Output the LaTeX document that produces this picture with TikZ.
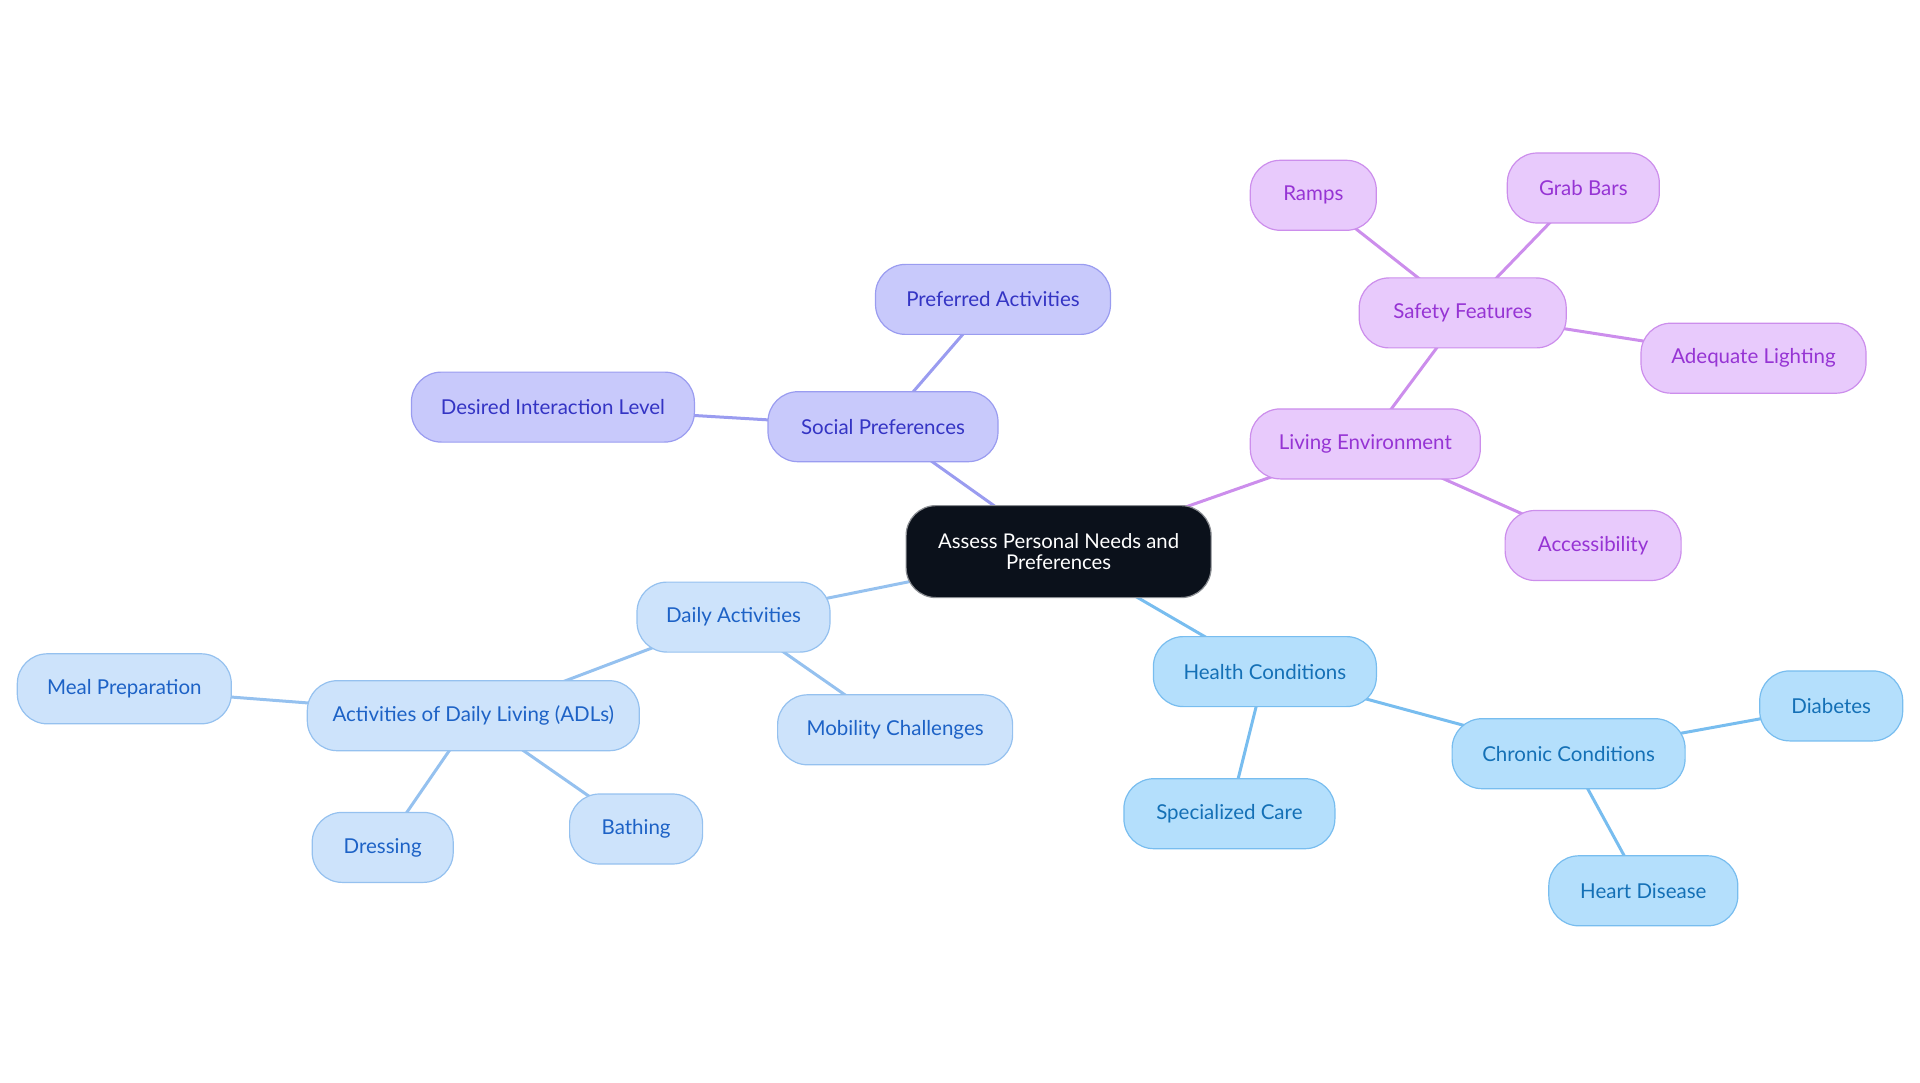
\documentclass[tikz,border=0pt]{standalone}
\usepackage{fontspec}
\setmainfont{Lato}
\usetikzlibrary{backgrounds}
\definecolor{rootfill}{HTML}{0B111B}
\definecolor{rootdraw}{HTML}{8A8D92}
\definecolor{indfill}{HTML}{C8C9FB}
\definecolor{inddraw}{HTML}{9A9CF0}
\definecolor{indtext}{HTML}{3434C4}
\definecolor{purfill}{HTML}{E8CAFC}
\definecolor{purdraw}{HTML}{CC8EEC}
\definecolor{purtext}{HTML}{9634D4}
\definecolor{hlfill}{HTML}{B4DFFC}
\definecolor{hldraw}{HTML}{78BDEF}
\definecolor{hltext}{HTML}{1470B6}
\definecolor{dafill}{HTML}{CDE3FB}
\definecolor{dadraw}{HTML}{95C1EF}
\definecolor{datext}{HTML}{1D62C6}
\tikzset{
  base/.style={rectangle, rounded corners=30pt, minimum height=70pt, line width=1.2pt,
    font=\fontsize{20.5}{23}\selectfont, inner xsep=0pt},
  rootnode/.style={base, fill=rootfill, draw=rootdraw, text=white, align=center,
    font=\fontsize{20.3}{21}\selectfont, minimum height=92pt},
  ind/.style={base, fill=indfill, draw=inddraw, text=indtext},
  pur/.style={base, fill=purfill, draw=purdraw, text=purtext},
  hl/.style={base, fill=hlfill, draw=hldraw, text=hltext},
  da/.style={base, fill=dafill, draw=dadraw, text=datext},
  indedge/.style={draw=inddraw, line width=3pt},
  puredge/.style={draw=purdraw, line width=3pt},
  hledge/.style={draw=hldraw, line width=3pt},
  daedge/.style={draw=dadraw, line width=3pt},
}
\begin{document}
\begin{tikzpicture}[x=1pt,y=-1pt]
\useasboundingbox (0,0) rectangle (1920,1083);
\node[rootnode, minimum width=305pt] (root) at (1058.6,551.6) {Assess Personal Needs and\\Preferences};
% social
\node[ind, minimum width=230pt] (soc) at (883,426.7) {Social Preferences};
\node[ind, minimum width=235pt] (pref) at (993,299.4) {Preferred Activities};
\node[ind, minimum width=283pt] (desired) at (552.9,407.1) {Desired Interaction Level};
% living
\node[pur, minimum width=230pt] (living) at (1365.3,443.9) {Living Environment};
\node[pur, minimum width=207pt] (safety) at (1462.7,312.9) {Safety Features};
\node[pur, minimum width=126pt] (ramps) at (1313.3,195.3) {Ramps};
\node[pur, minimum width=152pt] (grab) at (1583.3,188) {Grab Bars};
\node[pur, minimum width=225pt] (light) at (1753.5,358.2) {Adequate Lighting};
\node[pur, minimum width=176pt] (access) at (1593.1,545.5) {Accessibility};
% health
\node[hl, minimum width=223pt] (health) at (1264.9,671.6) {Health Conditions};
\node[hl, minimum width=211pt] (spec) at (1229.4,813.7) {Specialized Care};
\node[hl, minimum width=233pt] (chronic) at (1568.6,753.7) {Chronic Conditions};
\node[hl, minimum width=143pt] (diab) at (1831.2,705.9) {Diabetes};
\node[hl, minimum width=189pt] (heart) at (1643.3,890.8) {Heart Disease};
% daily
\node[da, minimum width=193pt] (daily) at (733.5,617.1) {Daily Activities};
\node[da, minimum width=235pt] (mob) at (895.1,729.8) {Mobility Challenges};
\node[da, minimum width=332pt] (adl) at (473.3,715.7) {Activities of Daily Living (ADLs)};
\node[da, minimum width=214pt] (meal) at (124.3,688.8) {Meal Preparation};
\node[da, minimum width=141pt] (dress) at (382.7,847.4) {Dressing};
\node[da, minimum width=133pt] (bath) at (636.1,829) {Bathing};
\begin{pgfonlayer}{background}
\draw[indedge] (root.center) -- (soc.center);
\draw[indedge] (soc.center) -- (pref.center);
\draw[indedge] (soc.center) -- (desired.center);
\draw[puredge] (root.center) -- (living.center);
\draw[puredge] (living.center) -- (safety.center);
\draw[puredge] (living.center) -- (access.center);
\draw[puredge] (safety.center) -- (ramps.center);
\draw[puredge] (safety.center) -- (grab.center);
\draw[puredge] (safety.center) -- (light.center);
\draw[hledge] (root.center) -- (health.center);
\draw[hledge] (health.center) -- (spec.center);
\draw[hledge] (health.center) -- (chronic.center);
\draw[hledge] (chronic.center) -- (diab.center);
\draw[hledge] (chronic.center) -- (heart.center);
\draw[daedge] (root.center) -- (daily.center);
\draw[daedge] (daily.center) -- (mob.center);
\draw[daedge] (daily.center) -- (adl.center);
\draw[daedge] (adl.center) -- (meal.center);
\draw[daedge] (adl.center) -- (dress.center);
\draw[daedge] (adl.center) -- (bath.center);
\end{pgfonlayer}
\end{tikzpicture}
\end{document}
